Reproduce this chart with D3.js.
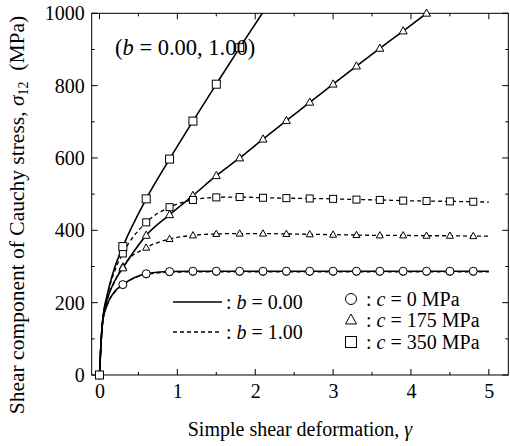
<!DOCTYPE html>
<html>
<head>
<meta charset="utf-8">
<script src="https://cdn.jsdelivr.net/npm/d3@7"></script>
<style>
  html, body { margin: 0; padding: 0; background: #fff; }
  svg { display: block; font-family: "Liberation Serif", "Times New Roman", serif; }
</style>
</head>
<body>
<svg id="chart" width="510" height="446"></svg>
<script>
// ---- data ----
const gammaLine = [0, 0.02, 0.04, 0.1, 0.2, 0.3, 0.6, 0.9, 1.2, 1.5, 1.8, 2.1, 2.4, 2.7, 3.0, 3.3, 3.6, 3.9, 4.2, 4.5, 4.8, 5.0];
const c0_b0   = [0, 90, 145, 195, 232, 250, 280, 286, 287, 287, 287, 287, 287, 287, 287, 287, 287, 287, 287, 287, 287, 287];
const c0_b1   = [0, 90, 145, 194, 230, 249, 278, 284, 285, 285, 285, 285, 285, 285, 285, 285, 285, 285, 285, 285, 285, 285];
const c175_b0 = [0, 90, 148, 210, 262, 296, 386, 443, 496, 551, 600, 652, 703, 754, 804, 854, 903, 951, 1000, null, null, null];
const c175_b1 = [0, 90, 146, 208, 260, 300, 352, 376, 386, 390, 391, 391, 390, 389, 388, 387, 386, 386, 385, 385, 384, 384];
const c350_b0 = [0, 90, 150, 222, 300, 355, 487, 597, 702, 804, 905, 1003, null, null, null, null, null, null, null, null, null, null];
const c350_b1 = [0, 90, 148, 218, 290, 336, 422, 464, 484, 491, 492, 490, 489, 488, 487, 485, 484, 482, 481, 480, 479, 478];
const markerStep = 0.3, markerMax = 4.8;

const xTicks = [0, 1, 2, 3, 4, 5];
const yTicks = [0, 200, 400, 600, 800, 1000];

const series = [
  { vals: c0_b1,   dash: true,  marker: "circle" },
  { vals: c175_b1, dash: true,  marker: "triangle" },
  { vals: c350_b1, dash: true,  marker: "square" },
  { vals: c0_b0,   dash: false, marker: "circle" },
  { vals: c175_b0, dash: false, marker: "triangle" },
  { vals: c350_b0, dash: false, marker: "square" }
];

// ---- layout ----
const svg = d3.select("#chart");
const L = 91.7, R = 508.3, T = 13.3, B = 375;
const x = d3.scaleLinear().domain([-0.1, 5.25]).range([L, R]);
const y = d3.scaleLinear().domain([0, 1000]).range([B, T]);

svg.append("defs").append("clipPath").attr("id", "clip")
  .append("rect").attr("x", L).attr("y", T).attr("width", R - L).attr("height", B - T);

// frame
svg.append("rect").attr("x", L).attr("y", T).attr("width", R - L).attr("height", B - T)
  .attr("fill", "none").attr("stroke", "#000").attr("stroke-width", 1);

// ticks (inward)
const tk = svg.append("g").attr("stroke", "#000").attr("stroke-width", 1);
d3.range(0, 5.01, 0.5).forEach(v => {
  const major = Math.abs(v - Math.round(v)) < 1e-6;
  const len = major ? 6 : 3;
  const px = x(v);
  tk.append("line").attr("x1", px).attr("x2", px).attr("y1", B).attr("y2", B - len);
  tk.append("line").attr("x1", px).attr("x2", px).attr("y1", T).attr("y2", T + len);
});
d3.range(0, 1001, 100).forEach(v => {
  const major = v % 200 === 0;
  const len = major ? 6 : 3;
  const py = y(v);
  tk.append("line").attr("x1", L).attr("x2", L + len).attr("y1", py).attr("y2", py);
  tk.append("line").attr("x1", R).attr("x2", R - len).attr("y1", py).attr("y2", py);
});

// tick labels
const xAxis = d3.axisBottom(x).tickValues(xTicks).tickSize(0).tickPadding(9).tickFormat(d3.format("d"));
const gx = svg.append("g").attr("transform", `translate(0,${B})`).call(xAxis);
gx.select(".domain").remove();
gx.selectAll("text").attr("font-family", "Liberation Serif").attr("font-size", 20).attr("fill", "#000");

const yAxis = d3.axisLeft(y).tickValues(yTicks).tickSize(0).tickPadding(7).tickFormat(d3.format("d"));
const gy = svg.append("g").attr("transform", `translate(${L},0)`).call(yAxis);
gy.select(".domain").remove();
gy.selectAll("text").attr("font-family", "Liberation Serif").attr("font-size", 20).attr("fill", "#000");

// lines
const plot = svg.append("g").attr("clip-path", "url(#clip)");
const lineGen = d3.line()
  .defined(d => d[1] != null)
  .x(d => x(d[0])).y(d => y(d[1]))
  .curve(d3.curveMonotoneX);

series.forEach(s => {
  const pts = gammaLine.map((g, i) => [g, s.vals[i]]);
  plot.append("path").attr("d", lineGen(pts))
    .attr("fill", "none").attr("stroke", "#000")
    .attr("stroke-width", s.dash ? 1.3 : 1.6)
    .attr("stroke-dasharray", s.dash ? "4,3" : null);
});

// markers
function drawMarker(g, type, cx, cy, size) {
  if (type === "circle") {
    g.append("circle").attr("cx", cx).attr("cy", cy).attr("r", size / 2)
      .attr("fill", "#fff").attr("stroke", "#000").attr("stroke-width", 1);
  } else if (type === "square") {
    g.append("rect").attr("x", cx - size / 2).attr("y", cy - size / 2)
      .attr("width", size).attr("height", size)
      .attr("fill", "#fff").attr("stroke", "#000").attr("stroke-width", 1);
  } else {
    const h = size * 0.9;
    g.append("path")
      .attr("d", `M${cx},${cy - h * 0.6}L${cx + size / 2},${cy + h * 0.4}L${cx - size / 2},${cy + h * 0.4}Z`)
      .attr("fill", "#fff").attr("stroke", "#000").attr("stroke-width", 1);
  }
}
const mk = svg.append("g");
const order = ["circle", "triangle", "square"];
order.forEach(type => {
  series.filter(s => s.marker === type).forEach(s => {
    gammaLine.forEach((g, i) => {
      const v = s.vals[i];
      const k = g / markerStep;
      if (v == null || v > 1000 || g > markerMax + 1e-9) return;
      if (Math.abs(k - Math.round(k)) > 1e-6) return;
      drawMarker(mk, type, x(g), y(v), s.dash ? 7 : 8);
    });
  });
});

// annotation
const ann = svg.append("text").attr("x", 115).attr("y", 55)
  .attr("font-size", 22.5).attr("fill", "#000");
ann.append("tspan").text("(");
ann.append("tspan").attr("font-style", "italic").text("b");
ann.append("tspan").text(" = 0.00, 1.00)");

// legend: line styles
const lg = svg.append("g");
const lineRows = [{ dash: false, label: "0.00", y: 302 }, { dash: true, label: "1.00", y: 332 }];
lineRows.forEach(r => {
  lg.append("line").attr("x1", 173).attr("x2", 222).attr("y1", r.y).attr("y2", r.y)
    .attr("stroke", "#000").attr("stroke-width", r.dash ? 1.3 : 1.6)
    .attr("stroke-dasharray", r.dash ? "4,3" : null);
  const t = lg.append("text").attr("x", 226).attr("y", r.y + 7).attr("font-size", 20).attr("fill", "#000");
  t.append("tspan").text(": ");
  t.append("tspan").attr("font-style", "italic").text("b");
  t.append("tspan").text(" = " + r.label);
});
// legend: markers
const markRows = [
  { type: "circle", label: "0 MPa", y: 299 },
  { type: "triangle", label: "175 MPa", y: 320 },
  { type: "square", label: "350 MPa", y: 342 }
];
markRows.forEach(r => {
  drawMarker(lg, r.type, 351, r.y, 11);
  const t = lg.append("text").attr("x", 361).attr("y", r.y + 7).attr("font-size", 20).attr("fill", "#000");
  t.append("tspan").attr("xml:space", "preserve").text("\u00a0: ");
  t.append("tspan").attr("font-style", "italic").text("c");
  t.append("tspan").text(" = " + r.label);
});

// axis titles
svg.append("text").attr("x", (L + R) / 2).attr("y", 436).attr("text-anchor", "middle")
  .attr("font-size", 20).attr("fill", "#000")
  .call(t => {
    t.append("tspan").text("Simple shear deformation, ");
    t.append("tspan").attr("font-style", "italic").text("γ");
  });

const yt = svg.append("text").attr("transform", "translate(24,215) rotate(-90)")
  .attr("text-anchor", "middle").attr("font-size", 21.5).attr("fill", "#000");
yt.append("tspan").text("Shear component of Cauchy stress, ");
yt.append("tspan").attr("font-style", "italic").text("σ");
yt.append("tspan").attr("font-size", 14).attr("dy", 4).text("12");
yt.append("tspan").attr("dy", -4).attr("xml:space", "preserve").text("\u00a0\u00a0(MPa)");
</script>
</body>
</html>
